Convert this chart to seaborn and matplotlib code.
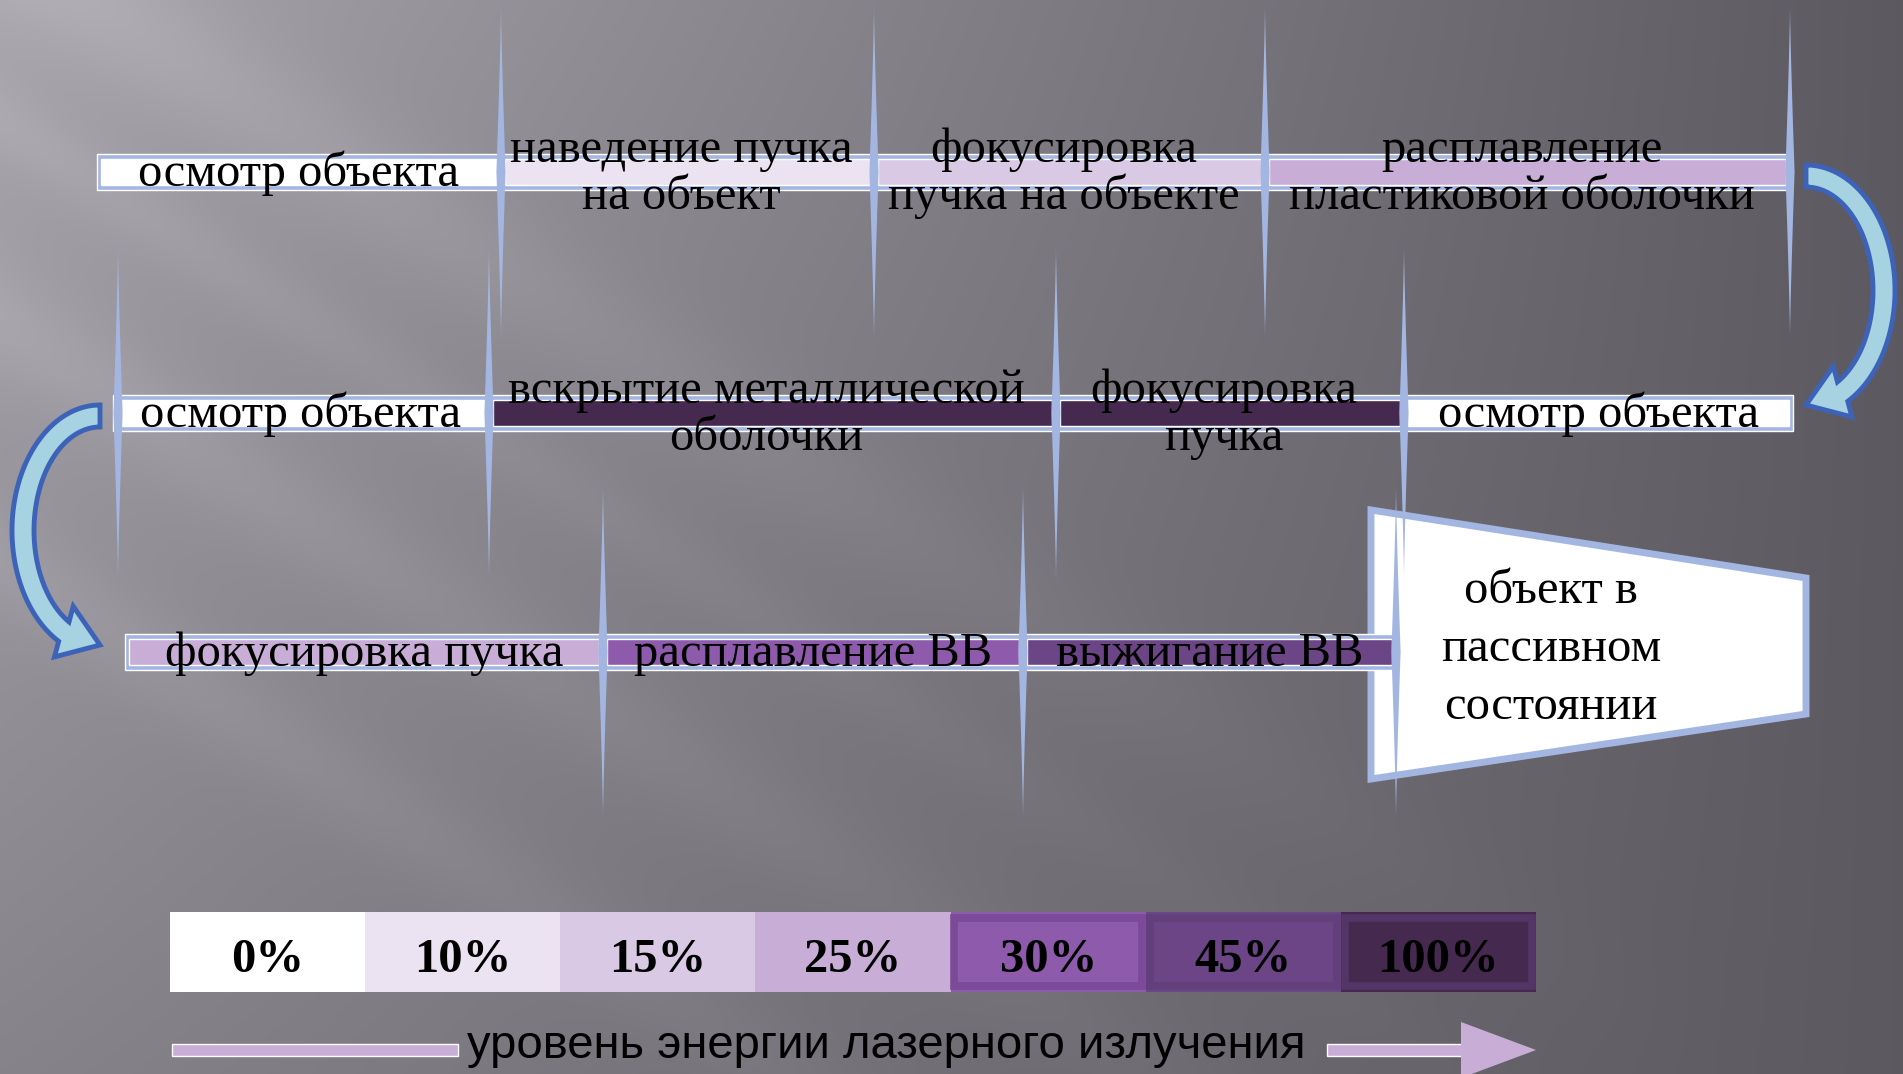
import numpy as np
import matplotlib
matplotlib.use("Agg")
import matplotlib.pyplot as plt
from matplotlib.patches import Polygon, Rectangle
from matplotlib.colors import ListedColormap
import seaborn as sns

# ---------------- data ----------------
levels = ['0%', '10%', '15%', '25%', '30%', '45%', '100%']
level_colors = ['#ffffff', '#ebe3f1', '#dac9e4', '#c8aed6', '#8e5aab', '#6b4585', '#45294f']
level_frames = [None, None, None, None, '#7b4a98', '#62407b', '#553567']

row1_labels = ['осмотр объекта', 'наведение пучка\nна объект',
               'фокусировка\nпучка на объекте', 'расплавление\nпластиковой оболочки']
row1_edges = [97, 501, 874, 1265, 1790]
row1_levels = [0, 1, 2, 3]

row2_labels = ['осмотр объекта', 'вскрытие металлической\nоболочки',
               'фокусировка\nпучка', 'осмотр объекта']
row2_edges = [113, 489, 1056, 1404, 1793]
row2_levels = [0, 6, 6, 0]

row3_labels = ['фокусировка пучка', 'расплавление ВВ', 'выжигание ВВ']
row3_edges = [125, 603, 1023, 1396]
row3_levels = [3, 4, 5]

final_label = 'объект в\nпассивном\nсостоянии'
axis_label = 'уровень энергии лазерного излучения'

# ---------------- figure ----------------
W, H = 1903, 1074
sns.set_theme(style="white")
plt.rcParams['font.family'] = ['Liberation Serif', 'DejaVu Serif']

fig = plt.figure(figsize=(W / 100, H / 100), dpi=100)
ax = fig.add_axes([0, 0, 1, 1])

# background gradient with soft diagonal streaks
yy, xx = np.mgrid[0:H:2, 0:W:2].astype(float)
xn, yn = xx / W, yy / H
g = 0.36 + 0.30 * (1 - xn) ** 1.0 * (1 - 0.45 * yn)
u = yy - 0.65 * xx
fade = np.clip(1 - xn * 1.1, 0, 1)
for u0, amp, wd in [(-60, 0.045, 70), (320, 0.04, 60), (560, 0.035, 55), (120, 0.03, 40)]:
    g += amp * np.exp(-((u - u0) / wd) ** 2) * fade
bg = np.dstack([g, g - 0.012, g + 0.018]).clip(0, 1)
ax.imshow(bg, extent=[0, W, H, 0], aspect='auto', zorder=0, interpolation='bilinear')
ax.set_xlim(0, W)
ax.set_ylim(H, 0)
ax.axis('off')

FRAME = '#a3b6e2'
TXT = 35


def spike(x, yc, half=165, w=8):
    t = np.linspace(-1, 1, 61)
    wd = w / 2 * (1 - np.abs(t)) ** 1.3 + 0.6 * (1 - np.abs(t))
    xs = np.concatenate([x + wd, (x - wd)[::-1]])
    ys = np.concatenate([yc + t * half, (yc + t * half)[::-1]])
    ax.add_patch(Polygon(np.column_stack([xs, ys]), closed=True, fc=FRAME, ec='none', zorder=4))


# trapezoid (final state)
ax.add_patch(Polygon([(1371, 510), (1806, 578), (1806, 714), (1371, 779)], closed=True,
                     fc='white', ec=FRAME, lw=5, zorder=1))
for k, line in enumerate(final_label.split('\n')):
    ax.text(1551, 603 + 58 * k, line, ha='center', va='baseline', fontsize=TXT, color='black', zorder=6)

rows = [
    (row1_labels, row1_edges, row1_levels, 172, 'end'),
    (row2_labels, row2_edges, row2_levels, 413, 'start'),
    (row3_labels, row3_edges, row3_levels, 652, 'end'),
]
for labels, edges, lv, yc, spk in rows:
    edges = np.array(edges, dtype=float)
    ax.barh(yc, edges[-1] - edges[0], left=edges[0], height=36, color=FRAME, zorder=2)
    ax.barh([yc] * len(lv), np.diff(edges) - 8, left=edges[:-1] + 4, height=26,
            color=[level_colors[i] for i in lv], zorder=3)
    sx = edges[1:] if spk == 'end' else edges[:-1]
    for i, x in enumerate(sx):
        spike(x + (5 if (spk == 'start' and i == 0) else 0), yc)
    for lab, e0, e1 in zip(labels, edges[:-1], edges[1:]):
        lines = lab.split('\n')
        cx = (e0 + e1) / 2
        if len(lines) == 1:
            ax.text(cx, yc + 14, lines[0], ha='center', va='baseline', fontsize=TXT, color='black', zorder=6)
        else:
            for k, line in enumerate(lines):
                ax.text(cx - 6, yc - 10 + 47 * k, line, ha='center', va='baseline', fontsize=TXT,
                        color='black', zorder=6)


def curved_arrow(cx, cy, rx, ry, sgn, tw=11, hw=27, th_end=-62):
    th = np.radians(np.linspace(90, th_end, 80))

    def pt(a, b, t):
        return np.column_stack([cx + sgn * a * np.cos(t), cy - b * np.sin(t)])

    outer = pt(rx + tw, ry + tw, th)
    inner = pt(rx - tw, ry - tw, th)
    base = pt(rx, ry, np.array([th[-1]]))[0]
    tip = np.array([cx, cy + ry])
    d = (tip - base) / np.linalg.norm(tip - base)
    out = sgn * np.array([d[1], -d[0]])
    pts = np.vstack([outer, base + hw * out, tip, base - hw * out, inner[::-1]])
    ax.add_patch(Polygon(pts, closed=True, fc='#a7d2e2', ec='#3d63b8', lw=3.5, zorder=5))


curved_arrow(1806, 290.5, 78, 114.5, +1)
curved_arrow(100, 530.5, 77, 114.5, -1)

# legend strip (seaborn heatmap)
lax = fig.add_axes([170 / W, 1 - 992 / H, 1366 / W, 80 / H])
sns.heatmap(np.arange(len(levels))[None, :], cmap=ListedColormap(level_colors),
            vmin=-0.5, vmax=len(levels) - 0.5, annot=np.array([levels]), fmt='',
            cbar=False, xticklabels=False, yticklabels=False, ax=lax,
            annot_kws=dict(fontsize=35, fontweight='bold', color='black',
                           family=['Liberation Serif', 'DejaVu Serif']))
for t in lax.texts:
    t.set_y(0.6)
for i, fr in enumerate(level_frames):
    if fr:
        lax.add_patch(Rectangle((i + 0.02, 0.07), 0.96, 0.86, fill=False, ec=fr, lw=5.5))

# bottom arrow
ARROW = '#c8aed6'
ax.barh(1050, 458 - 172, left=172, height=12, color=ARROW, zorder=3)
ax.barh(1050, 1462 - 1327, left=1327, height=12, color=ARROW, zorder=3)
ax.add_patch(Polygon([(1461, 1022), (1536, 1050), (1461, 1078)], closed=True, fc=ARROW, ec='none', zorder=3))
ax.text(886, 1058, axis_label, ha='center', va='baseline', fontsize=34, color='black',
        family=['Liberation Sans', 'DejaVu Sans'], zorder=6)

fig.savefig('out.png', dpi=100)
